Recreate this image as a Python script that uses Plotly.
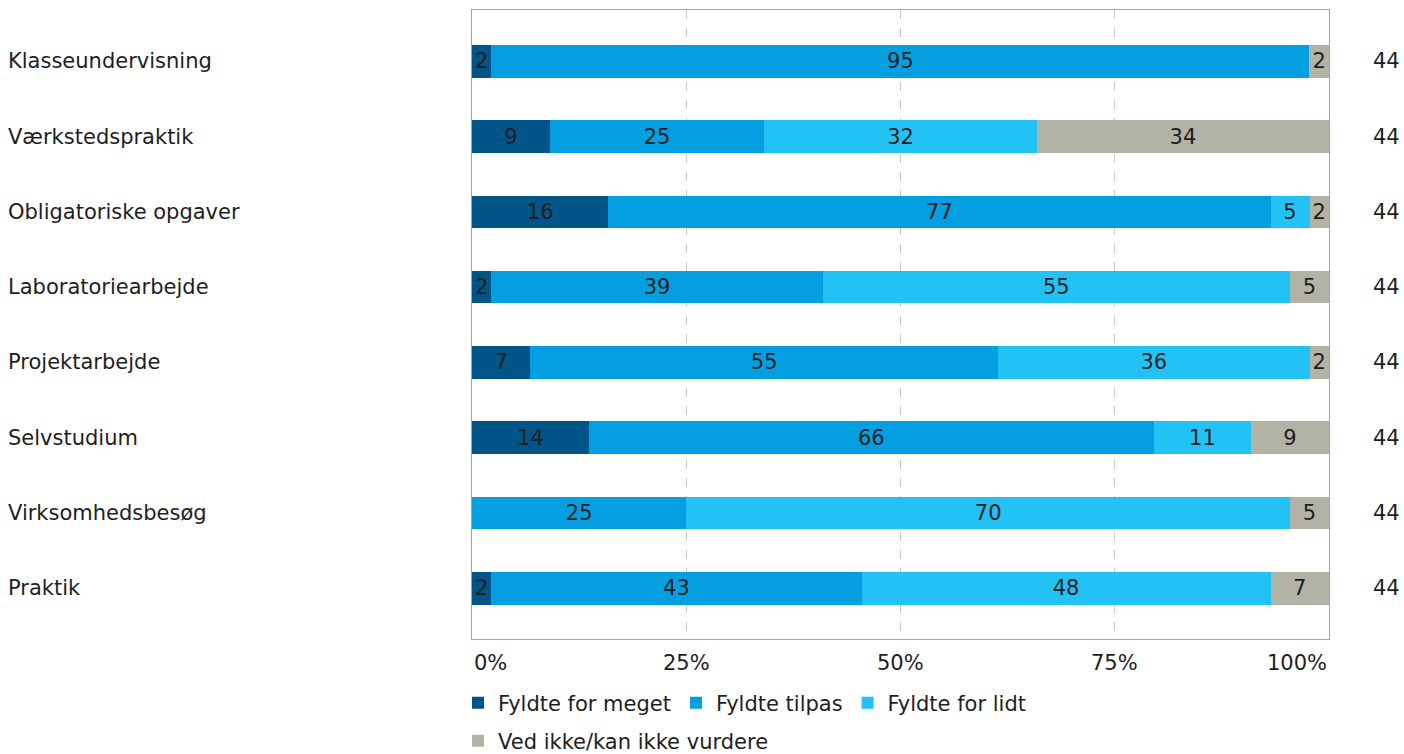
import plotly.graph_objects as go

categories = ["Klasseundervisning", "Værkstedspraktik", "Obligatoriske opgaver",
              "Laboratoriearbejde", "Projektarbejde", "Selvstudium",
              "Virksomhedsbesøg", "Praktik"]
series_names = ["Fyldte for meget", "Fyldte tilpas", "Fyldte for lidt",
                "Ved ikke/kan ikke vurdere"]
fyldte_for_meget = [2.27, 9.09, 15.91, 2.27, 6.82, 13.64, 0.0, 2.27]
fyldte_tilpas = [95.45, 25.00, 77.27, 38.64, 54.55, 65.91, 25.00, 43.18]
fyldte_for_lidt = [0.0, 31.82, 4.55, 54.54, 36.36, 11.36, 70.45, 47.73]
ved_ikke = [2.27, 34.09, 2.27, 4.55, 2.27, 9.09, 4.55, 6.82]
n_values = [44, 44, 44, 44, 44, 44, 44, 44]
x_ticks = [0, 25, 50, 75, 100]
x_tick_labels = ["0%", "25%", "50%", "75%", "100%"]

colors = ["#015488", "#039fe0", "#22c3f4", "#b2b3a5"]
FONT = "Verdana, DejaVu Sans, sans-serif"
TXT = "#1e1e1e"
FS = 21

fig = go.Figure()
all_series = [fyldte_for_meget, fyldte_tilpas, fyldte_for_lidt, ved_ikke]
legends = ["legend", "legend", "legend", "legend2"]
for name, vals, col, lg in zip(series_names, all_series, colors, legends):
    fig.add_trace(go.Bar(
        y=categories, x=vals, name=name, orientation="h",
        marker=dict(color=col, line=dict(width=0)),
        width=0.434,
        text=[str(round(v)) if v > 0 else "" for v in vals],
        textposition="inside", insidetextanchor="middle", textangle=0,
        textfont=dict(color=TXT, size=FS, family=FONT),
        constraintext="none", cliponaxis=False,
        hoverinfo="skip", legend=lg,
    ))

annotations = []
for cat, n in zip(categories, n_values):
    annotations.append(dict(xref="paper", yref="y", x=-466 / 857, y=cat,
                            text=cat, showarrow=False, xanchor="left",
                            yanchor="middle",
                            font=dict(family=FONT, size=FS, color=TXT)))
    annotations.append(dict(xref="paper", yref="y", x=(1386 - 472) / 857, y=cat,
                            text=str(n), showarrow=False, xanchor="center",
                            yanchor="middle",
                            font=dict(family=FONT, size=FS, color=TXT)))
for tv, tl in zip(x_ticks, x_tick_labels):
    anchor = "left" if tv == x_ticks[0] else ("right" if tv == x_ticks[-1] else "center")
    annotations.append(dict(xref="x", yref="paper", x=tv, y=-(663 - 639) / 629,
                            text=tl, showarrow=False, xanchor=anchor,
                            yanchor="middle",
                            font=dict(family=FONT, size=FS, color=TXT)))

fig.update_layout(
    barmode="stack",
    width=1404, height=754,
    margin=dict(l=472, r=75, t=10, b=115, pad=0, autoexpand=False),
    paper_bgcolor="white", plot_bgcolor="white",
    font=dict(family=FONT, size=FS, color=TXT),
    uniformtext=dict(minsize=FS, mode="show"),
    xaxis=dict(range=[0, 100], tickvals=x_ticks, showticklabels=False,
               showgrid=True, gridcolor="#c8c8c8", griddash="dash", gridwidth=1,
               showline=True, mirror=True, linecolor="#a3a3a3", linewidth=1,
               zeroline=False, ticks="", fixedrange=True),
    yaxis=dict(type="category", categoryorder="array", categoryarray=categories,
               range=[7.673, -0.681], showticklabels=False, showgrid=False,
               showline=True, mirror=True, linecolor="#a3a3a3", linewidth=1,
               ticks="", fixedrange=True),
    legend=dict(orientation="h", x=-14 / 857, xanchor="left",
                y=-(703 - 639) / 629, yanchor="middle",
                font=dict(family=FONT, size=FS, color=TXT),
                bgcolor="rgba(0,0,0,0)", traceorder="normal"),
    legend2=dict(orientation="h", x=-14 / 857, xanchor="left",
                 y=-(741 - 639) / 629, yanchor="middle",
                 font=dict(family=FONT, size=FS, color=TXT),
                 bgcolor="rgba(0,0,0,0)"),
    annotations=annotations,
    showlegend=True,
)

fig.write_html("out.html",
               config={"displayModeBar": False},
               post_script="document.body.style.margin='0';"
                           "document.body.style.overflow='hidden';")
